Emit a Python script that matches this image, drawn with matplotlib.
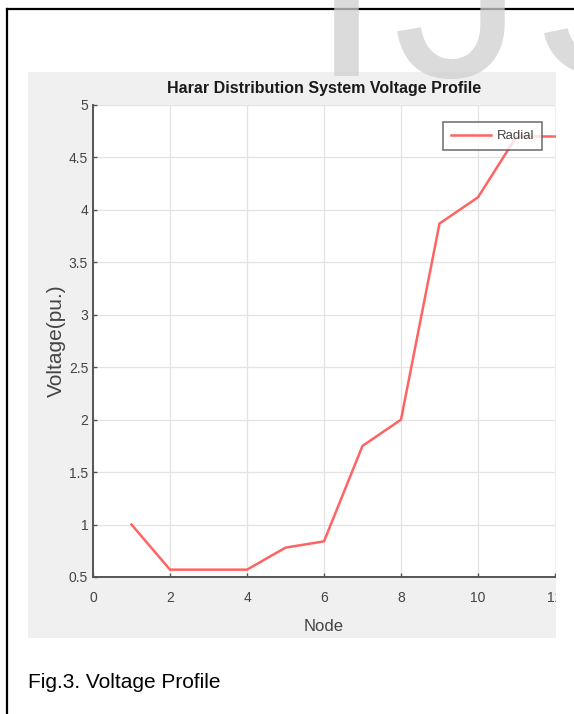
import matplotlib
matplotlib.use('Agg')
import matplotlib.pyplot as plt
from matplotlib.patches import Rectangle
from matplotlib.lines import Line2D

# voltage profile data
nodes = [1, 2, 3, 4, 5, 6, 7, 8, 9, 10, 11, 12]
voltage = [1.0, 0.57, 0.57, 0.57, 0.78, 0.84, 1.75, 2.0, 3.87, 4.12, 4.7, 4.7]
xticks = [0, 2, 4, 6, 8, 10, 12]
yticks = [0.5, 1, 1.5, 2, 2.5, 3, 3.5, 4, 4.5, 5]
ytick_labels = ['0.5', '1', '1.5', '2', '2.5', '3', '3.5', '4', '4.5', '5']

W, H = 574, 714
fig = plt.figure(figsize=(W / 100, H / 100), dpi=100)
fig.patch.set_facecolor('white')

def fx(px):
    return px / W

def fy(py):
    return 1 - py / H

# page border (top and left)
fig.add_artist(Line2D([fx(7), 1], [fy(9), fy(9)], color='black', lw=1.6))
fig.add_artist(Line2D([fx(7), fx(7)], [fy(9), 0], color='black', lw=1.6))

# matlab figure background
fig.add_artist(Rectangle((fx(28), fy(638)), fx(556) - fx(28), fy(72) - fy(638),
                         facecolor='#f0f0f0', edgecolor='none', zorder=-5))

ax = fig.add_axes([fx(93), fy(577), fx(555) - fx(93), fy(105) - fy(577)])
ax.set_facecolor('white')
ax.plot(nodes, voltage, color='#ff6363', lw=1.8, label='Radial', clip_on=False)
ax.set_xlim(0, 12)
ax.set_ylim(0.5, 5)
ax.set_xticks(xticks)
ax.set_yticks(yticks)
ax.set_yticklabels(ytick_labels)
ax.grid(True, color='#e3e3e3', lw=0.9)
ax.set_axisbelow(True)
for s in ['top', 'right']:
    ax.spines[s].set_visible(False)
for s in ['left', 'bottom']:
    ax.spines[s].set_color('#555555')
    ax.spines[s].set_linewidth(1.4)
ax.tick_params(direction='in', length=3, width=1, colors='#555555',
               labelcolor='#444444', labelsize=10)
ax.tick_params(axis='x', pad=10)
ax.tick_params(axis='y', pad=3.5)
for lab in ax.get_xticklabels() + ax.get_yticklabels():
    lab.set_family('Liberation Sans')

ax.set_title('Harar Distribution System Voltage Profile', fontsize=11.5, fontweight='bold',
             family='Liberation Sans', color='#1a1a1a', pad=9)
ax.set_xlabel('Node', fontsize=12, color='#444444', family='Liberation Sans', labelpad=10.5)
ax.set_ylabel('Voltage(pu.)', fontsize=15, color='#444444', family='Liberation Sans')
ax.yaxis.set_label_coords(-0.058, 0.5)

leg = ax.legend(loc='upper right', fontsize=9.5, frameon=True, fancybox=False,
                handlelength=3.0, borderpad=0.6, borderaxespad=0, handletextpad=0.45,
                prop={'family': 'Liberation Sans', 'size': 9.5},
                bbox_to_anchor=(fx(542), fy(122)), bbox_transform=fig.transFigure)
leg.get_frame().set_edgecolor('#555555')
leg.get_frame().set_linewidth(1.2)
for t in leg.get_texts():
    t.set_color('#444444')

# clip the figure at its right edge
fig.add_artist(Rectangle((fx(556), fy(645)), 1 - fx(556), fy(72) - fy(645),
                         facecolor='white', edgecolor='none', zorder=10))

# watermark letters
wm_letters = ['I', 'J', 'S']
wm_x = [310, 393, 531]
for letter, px in zip(wm_letters, wm_x):
    fig.text(fx(px), fy(76), letter, fontsize=189, family='Liberation Sans', color='#cfcfcf',
             alpha=0.75, ha='left', va='baseline', zorder=11)

fig.text(fx(28), fy(682), 'Fig.3. Voltage Profile', fontsize=15, family='Liberation Sans',
         color='black', ha='left', va='center')

fig.savefig('out.png', dpi=100)
